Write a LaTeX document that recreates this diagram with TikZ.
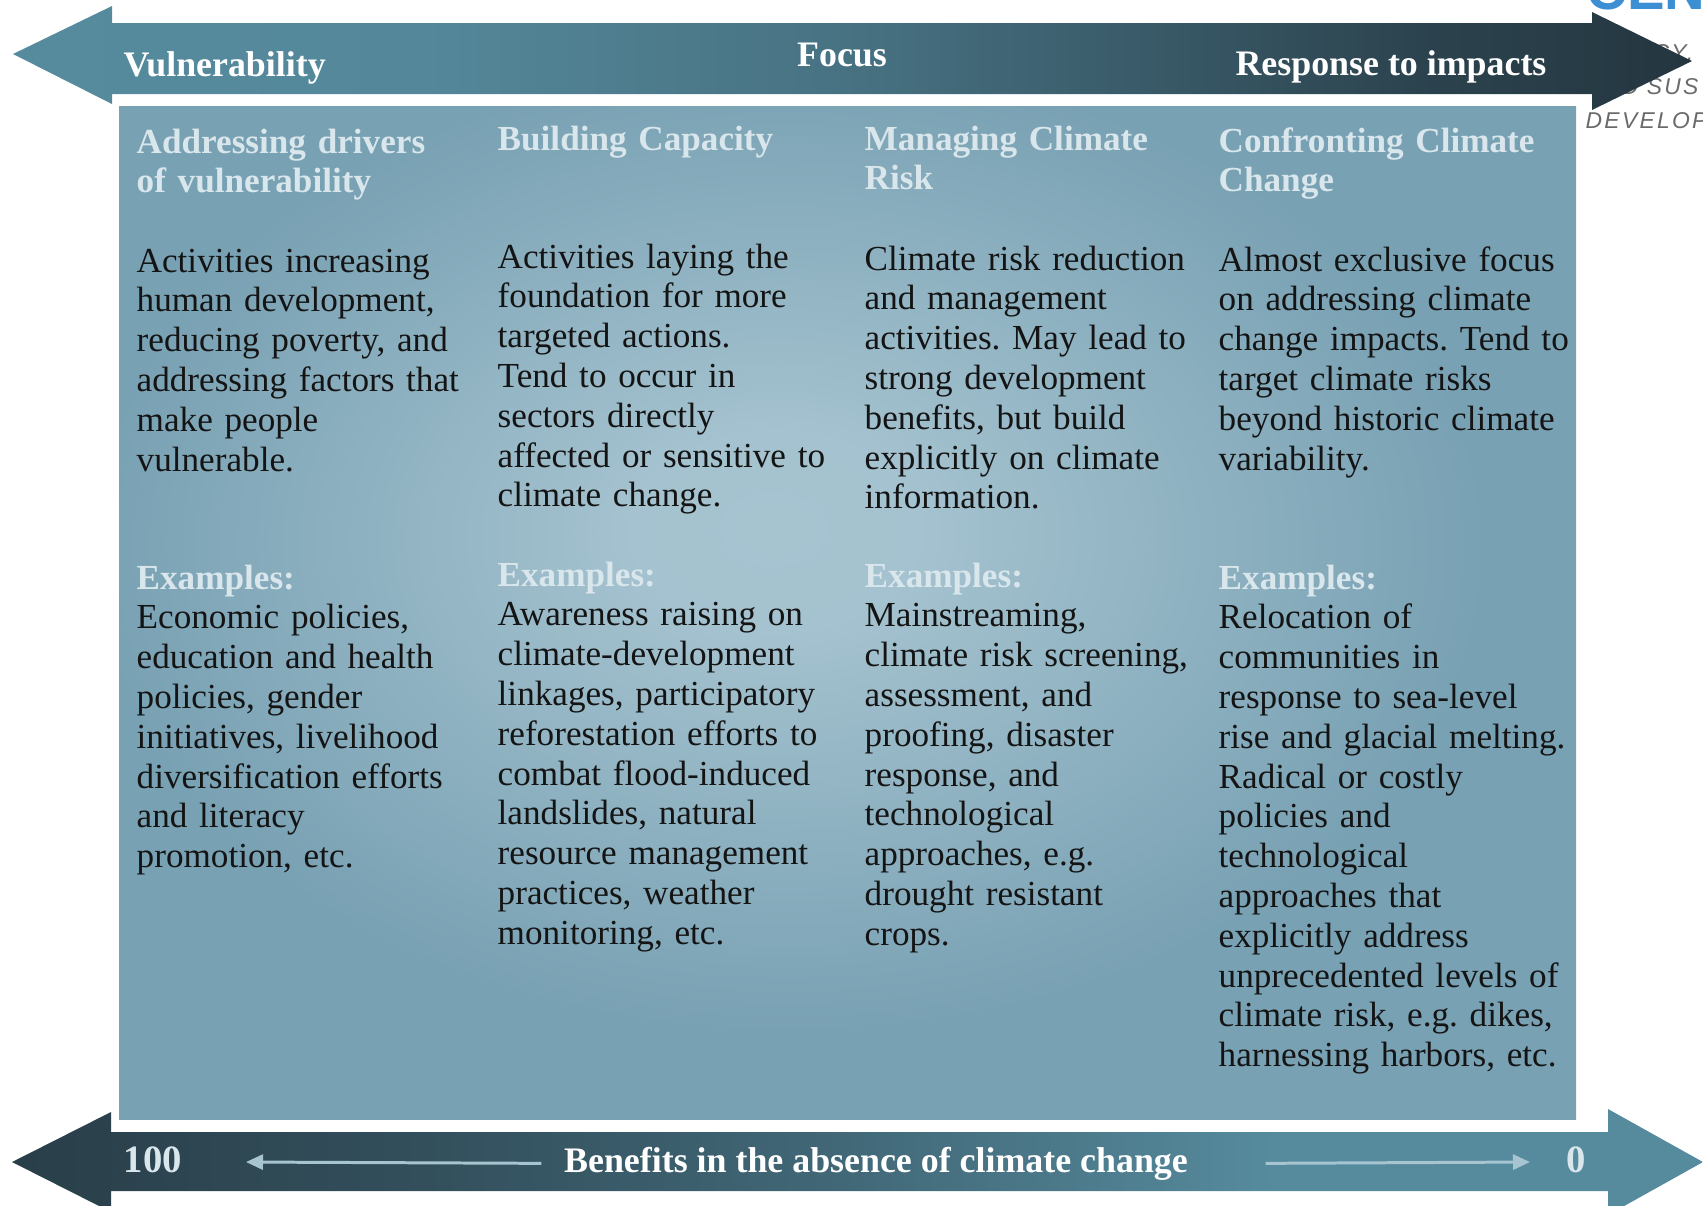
\documentclass[tikz,border=0pt]{standalone}
\usepackage{fontspec}
\setmainfont{Liberation Serif}
\newfontfamily\logofont{Liberation Sans}
\usetikzlibrary{arrows.meta}
\frenchspacing

\definecolor{barlight}{HTML}{568B9E}
\definecolor{bardark}{HTML}{243640}
\definecolor{panlight}{HTML}{A6C3D0}
\definecolor{panedge}{HTML}{78A1B3}
\definecolor{headpale}{HTML}{D9E6EC}
\definecolor{inkdark}{HTML}{141414}
\definecolor{tickpale}{HTML}{A7C5D1}
\definecolor{logogray}{HTML}{6A6A6A}
\definecolor{logoblue}{HTML}{3B8FD2}

% shadings for the two bars and the panel (the path covers 25bp..75bp)
\pgfdeclarehorizontalshading{topbar}{100bp}{color(0bp)=(barlight); color(25bp)=(barlight);
  color(37.5bp)=(barlight!95!bardark); color(50bp)=(barlight!70!bardark); color(58bp)=(barlight!45!bardark);
  color(67bp)=(barlight!15!bardark); color(75bp)=(bardark); color(100bp)=(bardark)}
\pgfdeclarehorizontalshading{bottombar}{100bp}{color(0bp)=(bardark!90!barlight); color(25bp)=(bardark!90!barlight);
  color(37.5bp)=(bardark!70!barlight); color(50bp)=(bardark!40!barlight); color(62.5bp)=(barlight);
  color(100bp)=(barlight)}
\pgfdeclareradialshading{panelglow}{\pgfpoint{-2.6bp}{4.2bp}}{color(0bp)=(panlight); color(5bp)=(panlight!96!panedge);
  color(13bp)=(panlight!55!panedge); color(24bp)=(panedge); color(100bp)=(panedge)}

\begin{document}
\begin{tikzpicture}[x=0.01cm,y=-0.01cm,>={Triangle[length=0.17cm,width=0.15cm]},
    barlabel/.style={inner sep=0pt, text=white, font=\fontsize{10.2}{12}\selectfont\bfseries},
    barnum/.style={inner sep=0pt, text=headpale, font=\fontsize{11}{12}\selectfont\bfseries},
    colhead/.style={anchor=base west, inner sep=0pt, text width=3.6cm, align=left,
      text=headpale, font=\fontsize{10}{11.1}\selectfont\bfseries},
    coltext/.style={anchor=base west, inner sep=0pt, text width=3.6cm, align=left,
      text=inkdark, font=\fontsize{10}{11.32}\selectfont},
    logotext/.style={anchor=base west, inner sep=0pt, text=logogray,
      font=\logofont\itshape\fontsize{6.5}{7}\selectfont\addfontfeature{LetterSpace=10}},
    tick/.style={->, tickpale, line width=0.85pt}]
  \useasboundingbox (0,0) rectangle (1703,1205);
  \clip (0,0) rectangle (1703,1205);

  % 1) logo lettering, mostly hidden behind the right arrow head
  \node[anchor=base west, inner sep=0pt, text=logoblue, font=\logofont\bfseries\fontsize{16}{16}\selectfont]
       (logo) at (1586,9) {CEN};
  \node[logotext] (logoa) at (1652,60) {CY,};
  \node[logotext] (logob) at (1621,94) {D SUS};
  \node[logotext] (logoc) at (1585,128) {DEVELOP};

  % 2) top double arrow: vulnerability <-> response
  \shade[shading=topbar] (13,54) -- (112,6) -- (112,23) -- (1592,23) -- (1592,12) -- (1692,61)
        -- (1592,110) -- (1592,94) -- (112,94) -- (112,104) -- cycle;
  \node[barlabel, anchor=base west] (vuln) at (123,76) {Vulnerability};
  \node[barlabel, anchor=base] (focus) at (842,66) {Focus};
  \node[barlabel, anchor=base] (response) at (1391,75) {Response to impacts};

  % 3) the panel behind the four columns
  \shade[shading=panelglow] (119,106) rectangle (1576,1119);

  % 4) column one
  \node[colhead] (head1) at (136,153) {Addressing drivers\\of vulnerability};
  \node[coltext] (body1) at (136,272) {Activities increasing\\human development,\\reducing poverty, and\\
       addressing factors that\\make people\\vulnerable.};
  \node[coltext] (ex1) at (136,589) {{\bfseries\color{headpale}Examples:}\\Economic policies,\\
       education and health\\policies, gender\\initiatives, livelihood\\diversification efforts\\
       and literacy\\promotion, etc.};

  % 5) column two
  \node[colhead] (head2) at (497,150) {Building Capacity};
  \node[coltext] (body2) at (497,268) {Activities laying the\\foundation for more\\targeted actions.\\
       Tend to occur in\\sectors directly\\affected or sensitive to\\climate change.};
  \node[coltext] (ex2) at (497,586) {{\bfseries\color{headpale}Examples:}\\Awareness raising on\\
       climate-development\\linkages, participatory\\reforestation efforts to\\combat flood-induced\\
       landslides, natural\\resource management\\practices, weather\\monitoring, etc.};

  % 6) column three
  \node[colhead] (head3) at (864,150) {Managing Climate\\Risk};
  \node[coltext] (body3) at (864,270) {Climate risk reduction\\and management\\activities. May lead to\\
       strong development\\benefits, but build\\explicitly on climate\\information.};
  \node[coltext] (ex3) at (864,587) {{\bfseries\color{headpale}Examples:}\\Mainstreaming,\\
       climate risk screening,\\assessment, and\\proofing, disaster\\response, and\\technological\\
       approaches, e.g.\\drought resistant\\crops.};

  % 7) column four
  \node[colhead] (head4) at (1218,152) {Confronting Climate\\Change};
  \node[coltext] (body4) at (1218,271) {Almost exclusive focus\\on addressing climate\\
       change impacts. Tend to\\target climate risks\\beyond historic climate\\variability.};
  \node[coltext] (ex4) at (1218,589) {{\bfseries\color{headpale}Examples:}\\Relocation of\\
       communities in\\response to sea-level\\rise and glacial melting.\\Radical or costly\\
       policies and\\technological\\approaches that\\explicitly address\\unprecedented levels of\\
       climate risk, e.g. dikes,\\harnessing harbors, etc.};

  % 8) bottom double arrow: benefits without climate change
  \shade[shading=bottombar] (12,1162) -- (111,1112) -- (111,1132) -- (1608,1132) -- (1608,1109)
        -- (1703,1162) -- (1608,1215) -- (1608,1191) -- (111,1191) -- (111,1212) -- cycle;
  \node[barnum, anchor=base west] (hundred) at (123,1172) {100};
  \node[barlabel, anchor=base] (benefit) at (876,1172) {Benefits in the absence of climate change};
  \node[barnum, anchor=base] (zero) at (1576,1172) {0};
  \coordinate (lefttip) at (246,1162);
  \coordinate (righttip) at (1530,1162);
  \draw[tick] (benefit.west) ++(-22,0) -- (lefttip);
  \draw[tick] (benefit.east) ++(77,0) -- (righttip);
\end{tikzpicture}
\end{document}
